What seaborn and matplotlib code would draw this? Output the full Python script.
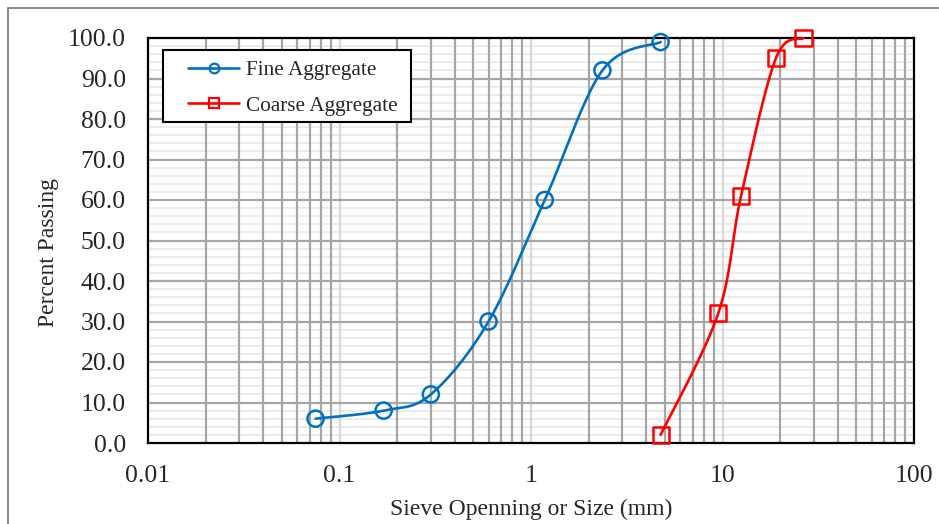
import numpy as np
import pandas as pd
import matplotlib
matplotlib.use("Agg")
import matplotlib.pyplot as plt
import seaborn as sns
from matplotlib.lines import Line2D
from matplotlib.patches import Rectangle
from matplotlib.ticker import FixedLocator, NullLocator, MultipleLocator, FormatStrFormatter

# ---- data ----
fine_size = [0.075, 0.17, 0.3, 0.6, 1.18, 2.36, 4.75]
fine_pass = [6.0, 8.0, 12.0, 30.0, 60.0, 92.0, 99.0]
coarse_size = [4.75, 9.5, 12.5, 19.0, 26.5]
coarse_pass = [2.0, 32.0, 61.0, 95.0, 100.0]
series_names = ["Fine Aggregate", "Coarse Aggregate"]
xtick_vals = [0.01, 0.1, 1, 10, 100]
xtick_labels = ["0.01", "0.1", "1", "10", "100"]

sns.set_style("white")
plt.rcParams["font.family"] = ["Liberation Serif", "DejaVu Serif"]

W, H = 939, 524
fig = plt.figure(figsize=(W / 100, H / 100), dpi=100)
L, R, T, B = 148, 914, 38, 443
ax = fig.add_axes([L / W, 1 - B / H, (R - L) / W, (B - T) / H])

ax.set_xscale("log")
ax.set_xlim(0.01, 100)
ax.set_ylim(0, 100)

blue = "#0070C0"
red = "#FF0000"

pw, ph = R - L, B - T


def smooth(xs, ys, n=40):
    # Excel-style smoothed line (Catmull-Rom Bezier) in screen space
    u = (np.log10(xs) + 2) / 4 * pw
    v = np.asarray(ys) / 100 * ph
    P = np.column_stack([u, v])
    Pe = np.vstack([P[0], P, P[-1]])
    out = []
    t = np.linspace(0, 1, n)[:, None]
    for i in range(len(P) - 1):
        p0, p1, p2, p3 = Pe[i], Pe[i + 1], Pe[i + 2], Pe[i + 3]
        c1 = p1 + (p2 - p0) / 6
        c2 = p2 - (p3 - p1) / 6
        seg = ((1 - t) ** 3) * p1 + 3 * ((1 - t) ** 2) * t * c1 + 3 * (1 - t) * t ** 2 * c2 + t ** 3 * p2
        out.append(seg if i == 0 else seg[1:])
    S = np.vstack(out)
    return 10 ** (S[:, 0] / pw * 4 - 2), S[:, 1] / ph * 100


# ticks
ax.xaxis.set_major_locator(FixedLocator(xtick_vals))
ax.xaxis.set_minor_locator(NullLocator())
ax.set_xticks(xtick_vals)
ax.set_xticklabels(xtick_labels)
ax.yaxis.set_major_locator(MultipleLocator(10))
ax.yaxis.set_major_formatter(FormatStrFormatter("%.1f"))
ax.grid(False)

# grid drawn explicitly in layered order
x_minor = [m * 10.0 ** e for e in range(-2, 2) for m in range(2, 10)]
y_minor = [v for v in range(2, 100, 2) if v % 10 != 0]
y_major = list(range(10, 100, 10))
ax.hlines(y_minor, 0.01, 100, color="#ebebeb", lw=1.3, zorder=0.5)
ax.vlines(xtick_vals[1:-1], 0, 100, color="#d9d9d9", lw=1.6, zorder=0.8)
ax.vlines(x_minor, 0, 100, color="#a6a6a6", lw=1.6, zorder=0.9)
ax.hlines(y_major, 0.01, 100, color="#a6a6a6", lw=1.6, zorder=1.0)

ax.tick_params(axis="both", which="both", length=0, labelsize=18.5)
ax.tick_params(axis="x", which="major", pad=16)
ax.tick_params(axis="y", which="major", pad=16)

for s in ax.spines.values():
    s.set_color("black")
    s.set_linewidth(1.6)
    s.set_visible(True)
    s.set_zorder(2)

# lines
fx, fy = smooth(fine_size, fine_pass)
cx, cy = smooth(coarse_size, coarse_pass)
ax.plot(fx, fy, color=blue, lw=1.9, zorder=3, clip_on=False)
ax.plot(cx, cy, color=red, lw=1.9, zorder=3, clip_on=False)

df_f = pd.DataFrame({"size": fine_size, "pass": fine_pass})
df_c = pd.DataFrame({"size": coarse_size, "pass": coarse_pass})
sns.scatterplot(data=df_f, x="size", y="pass", ax=ax, marker="o", s=135,
                facecolor="none", edgecolor=blue, linewidth=1.8, zorder=4, clip_on=False)
sns.scatterplot(data=df_c, x="size", y="pass", ax=ax, marker="s", s=135,
                facecolor="none", edgecolor=red, linewidth=1.8, zorder=4, clip_on=False)

ax.set_xlabel("Sieve Openning or Size (mm)", fontsize=17)
ax.set_ylabel("Percent Passing", fontsize=17)
ax.xaxis.set_label_coords(0.5, -0.138)
ax.yaxis.set_label_coords(-0.116, 0.47)

# legend: frame drawn separately, entries placed inside
lx0, ly0, lx1, ly1 = 163, 50, 411, 122
ax.add_patch(Rectangle(((lx0 - L) / pw, (B - ly1) / ph), (lx1 - lx0) / pw, (ly1 - ly0) / ph,
                       transform=ax.transAxes, facecolor="white", edgecolor="black",
                       lw=1.5, zorder=5))
handles = [
    Line2D([], [], color=blue, lw=1.9, marker="o", markersize=7, markerfacecolor="none",
           markeredgecolor=blue, markeredgewidth=1.6),
    Line2D([], [], color=red, lw=1.9, marker="s", markersize=7, markerfacecolor="none",
           markeredgecolor=red, markeredgewidth=1.6),
]
leg = ax.legend(handles, series_names, loc="center left",
                bbox_to_anchor=((188 - L) / pw, (B - 88) / ph), borderaxespad=0,
                fontsize=15.3, frameon=False,
                handlelength=2.4, handletextpad=0.35, labelspacing=0.72,
                borderpad=0.0)
leg.set_zorder(6)

# chart-area border
fig.patches.append(Rectangle((8 / W, -0.1), 2, (H - 8) / H + 0.1, transform=fig.transFigure,
                             fill=False, edgecolor="#808080", lw=1.3))

fig.savefig("out.png", dpi=100)
